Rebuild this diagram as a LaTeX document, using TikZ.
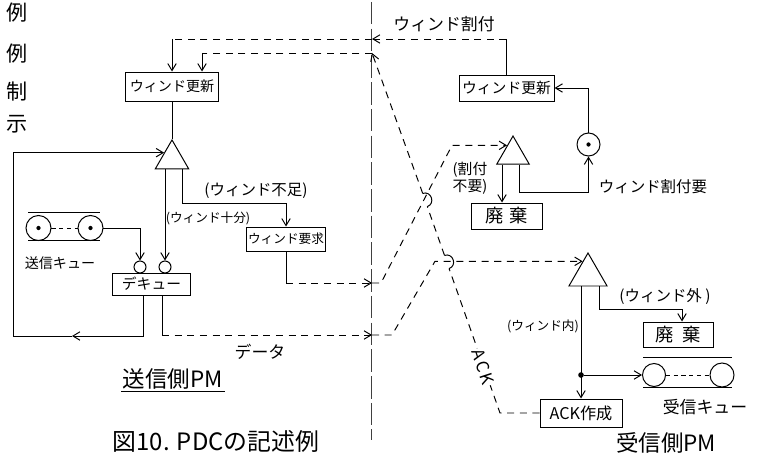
\documentclass[tikz,border=0pt]{standalone}
\usepackage{fontspec}
\setmainfont{Noto Sans CJK JP}
\usetikzlibrary{positioning, arrows.meta, shapes.geometric, calc}

\begin{document}
\begin{tikzpicture}[x=0.025cm, y=-0.025cm, line width=0.7pt,
		>={Straight Barb[length=5pt,width=6pt]},
		box/.style={draw, inner sep=1pt, font=\fontsize{10}{11}\selectfont},
		gate/.style={draw, regular polygon, regular polygon sides=3, inner sep=0pt},
		ring/.style={draw, circle, inner sep=0pt},
		dsh/.style={dash pattern=on 5pt off 4pt},
		lbl/.style={inner sep=1pt}]
		\useasboundingbox (0,0) rectangle (763,459);
		
		% --- Margin text (cut column) ---
		\foreach \ch/\yy [count=\i] in {例/13, 例/54, 制/92, 示/124}
			\node[lbl, font=\fontsize{15}{17}\selectfont] (mg\i) at (17,\yy) {\ch};
		
		% --- Boundary between the two PMs ---
		\draw[line width=0.5pt, black!75, dash pattern=on 16pt off 3pt] (371,2) -- (371,440);
		\coordinate (xa) at (372,39);
		\coordinate (xk) at (372,53);
		\coordinate (xr) at (372,283);
		\coordinate (xd) at (372,335);
		
		% --- Sending PM (left) ---
		\node[box, minimum width=2.3cm, minimum height=0.725cm] (wupL) at (172,86.5) {ウィンド更新};
		\node[gate, minimum size=0.967cm] (triL) at (172,159.3) {};
		\node[box, minimum width=1.95cm, minimum height=0.6cm, font=\fontsize{9}{10}\selectfont] (wreq) at (286,239) {ウィンド要求};
		\node[box, minimum width=1.925cm, minimum height=0.55cm, font=\fontsize{10.5}{11}\selectfont] (deq) at (151.5,284) {デキュー};
		\node[ring, minimum size=0.3cm] (gA) at (140,267) {};
		\node[ring, minimum size=0.3cm] (gB) at (165,267) {};
		
		% send queue
		\node[ring, minimum size=0.625cm] (qs1) at (38.5,228) {};
		\node[ring, minimum size=0.625cm] (qs2) at (90.5,228) {};
		\fill (qs1) circle (1.5pt);
		\fill (qs2) circle (1.5pt);
		\draw[dash pattern=on 3pt off 2.5pt] (qs1.east) -- (qs2.west);
		\draw (28,212) -- (100,212);
		\draw (28,240) -- (100,240);
		
		% --- Receiving PM (right) ---
		\node[box, minimum width=2.375cm, minimum height=0.65cm, font=\fontsize{10.5}{11}\selectfont] (wupR) at (506.5,88) {ウィンド更新};
		\node[ring, minimum size=0.575cm] (wa) at (588.5,144.5) {};
		\fill (wa) circle (1.5pt);
		\node[gate, minimum size=0.933cm] (triR1) at (513,154.7) {};
		\node[box, minimum width=1.775cm, minimum height=0.65cm, font=\fontsize{13}{14}\selectfont] (haiki1) at (506.5,216) {廃\hspace{4pt}棄};
		\node[gate, minimum size=1.1cm] (triR2) at (588,275) {};
		\node[box, minimum width=1.75cm, minimum height=0.625cm, font=\fontsize{13}{14}\selectfont] (haiki2) at (678,334.5) {廃\hspace{6pt}棄};
		\node[box, minimum width=2.05cm, minimum height=0.7cm, font=\fontsize{11.5}{12}\selectfont] (ackb) at (581,413) {ACK作成};
		\node[circle, fill, inner sep=0pt, minimum size=4pt] (jn) at (581,375) {};
		
		% receive queue
		\node[ring, minimum size=0.575cm] (qr1) at (654,375) {};
		\node[ring, minimum size=0.6cm] (qr2) at (722,375) {};
		\draw[dash pattern=on 3pt off 2.5pt] (qr1.east) -- (qr2.west);
		\draw (643,357) -- (732,357);
		\draw (643,387) -- (732,387);
		
		% --- Connectors, left side ---
		\coordinate (lin) at ($(triL.corner 1)!0.45!(triL.corner 2)$);
		\draw (wupL.south) -- (triL.corner 1);
		\draw[->] (gB |- triL.side 2) -- (gB.north);
		\draw[->] (182,0 |- triL.side 2) |- (wreq.north |- 0,203) -- (wreq.north);
		\draw[->] (qs2.east) -| (gA.north);
		\draw[->] (143,0 |- deq.south) -- (143,336) -- (72,336);
		\draw[->] (72,336) -- (13,336) -- (13,0 |- lin) -- (lin);
		
		% window allocation coming back
		\draw (wupR.north) -- (wupR.north |- xa);
		\draw[dsh,->] (wupR.north |- xa) -- (xa);
		\draw[dsh] (xa) -- (xa -| wupL.north);
		\draw[->] (xa -| wupL.north) -- (wupL.north);
		
		% window request going out
		\coordinate (r1in) at ($(triR1.corner 1)!0.35!(triR1.corner 2)$);
		\draw (wreq.south) -- (wreq.south |- xr);
		\draw[dsh,->] (wreq.south |- xr) -- (xr);
		\draw[dsh,->] (xr) -- ++(9,0) -- (452,0 |- r1in) -- (r1in);
		
		% data going out
		\coordinate (r2in) at ($(triR2.corner 1)!0.27!(triR2.corner 2)$);
		\draw (162,0 |- deq.south) -- (162,0 |- xd);
		\draw[dsh,->] (162,0 |- xd) -- (xd);
		\draw[dsh,->] (xd) -- ++(20,0) -- (435,0 |- r2in) -- (r2in);
		
		% --- Connectors, right side ---
		\draw[->] (519,0 |- triR1.side 2) |- (wa |- 0,192) -- (wa.south);
		\draw[->] (wa.north) |- (wupR.east);
		\draw[->] (502,0 |- triR1.side 2) -- (502,0 |- haiki1.north);
		\draw[->] (581,0 |- triR2.side 2) -- (581,0 |- ackb.north);
		\draw[->] (jn) -- (qr1.west);
		\draw[->] (599,0 |- triR2.side 2) |- (682,309) -- (682,0 |- haiki2.north);
		
		% ACK line with hops over the two crossings
		\coordinate (b2) at (449.1,268.6);
		\coordinate (a2) at (444.5,255.4);
		\coordinate (b1) at (427.3,206.6);
		\coordinate (a1) at (422.7,193.4);
		\draw[dsh] (ackb.west) -- (500,413) -- (b2);
		\draw (b2) .. controls (457.6,265.6) and (453.0,252.4) .. (a2);
		\draw[dsh] (a2) -- (b1);
		\draw (b1) .. controls (435.8,203.6) and (431.2,190.4) .. (a1);
		\draw[dsh,->] (a1) -- (xk);
		\draw[dsh] (xk) -- (202,0 |- xk);
		\draw[->] (202,0 |- xk) -- (202,0 |- wupL.north);
		
		% --- Labels ---
		\node[lbl, font=\fontsize{12}{14}\selectfont] (lbAlloc) at (444,24) {ウィンド割付};
		\node[lbl, font=\fontsize{11}{13}\selectfont] (lbShort) at (256,191) {(ウィンド不足)};
		\node[lbl, font=\fontsize{9}{11}\selectfont] (lbEnough) at (208,218) {(ウィンド十分)};
		\node[lbl, font=\fontsize{10}{12}\selectfont] (lbSq) at (60,263) {送信キュー};
		\node[lbl, font=\fontsize{12}{14}\selectfont] (lbData) at (260,352) {データ};
		\node[lbl, font=\fontsize{16}{18}\selectfont] (lbSend) at (173,379) {送信側PM};
		\draw (lbSend.south west) -- (lbSend.south east);
		\node[lbl, font=\fontsize{17}{20}\selectfont] (lbCap) at (216,441) {図10. PDCの記述例};
		\node[lbl, font=\fontsize{10.5}{12}\selectfont, align=center] (lbNoNeed) at (470,178) {(割付\\不要)};
		\node[lbl, font=\fontsize{11}{13}\selectfont] (lbReq) at (653,187) {ウィンド割付要};
		\node[lbl, font=\fontsize{11}{13}\selectfont] (lbOut) at (665,297) {(ウィンド外 )};
		\node[lbl, font=\fontsize{9}{11}\selectfont] (lbIn) at (543,326) {(ウィンド内)};
		\node[lbl, font=\fontsize{12}{14}\selectfont, rotate=-72, fill=white] (lbAck) at (483,367) {A\kern1.5pt C\kern1.5pt K};
		\node[lbl, font=\fontsize{12}{14}\selectfont] (lbRq) at (705,407) {受信キュー};
		\node[lbl, font=\fontsize{16}{18}\selectfont] (lbRecv) at (666,443) {受信側PM};
		
	\end{tikzpicture}
\end{document}
